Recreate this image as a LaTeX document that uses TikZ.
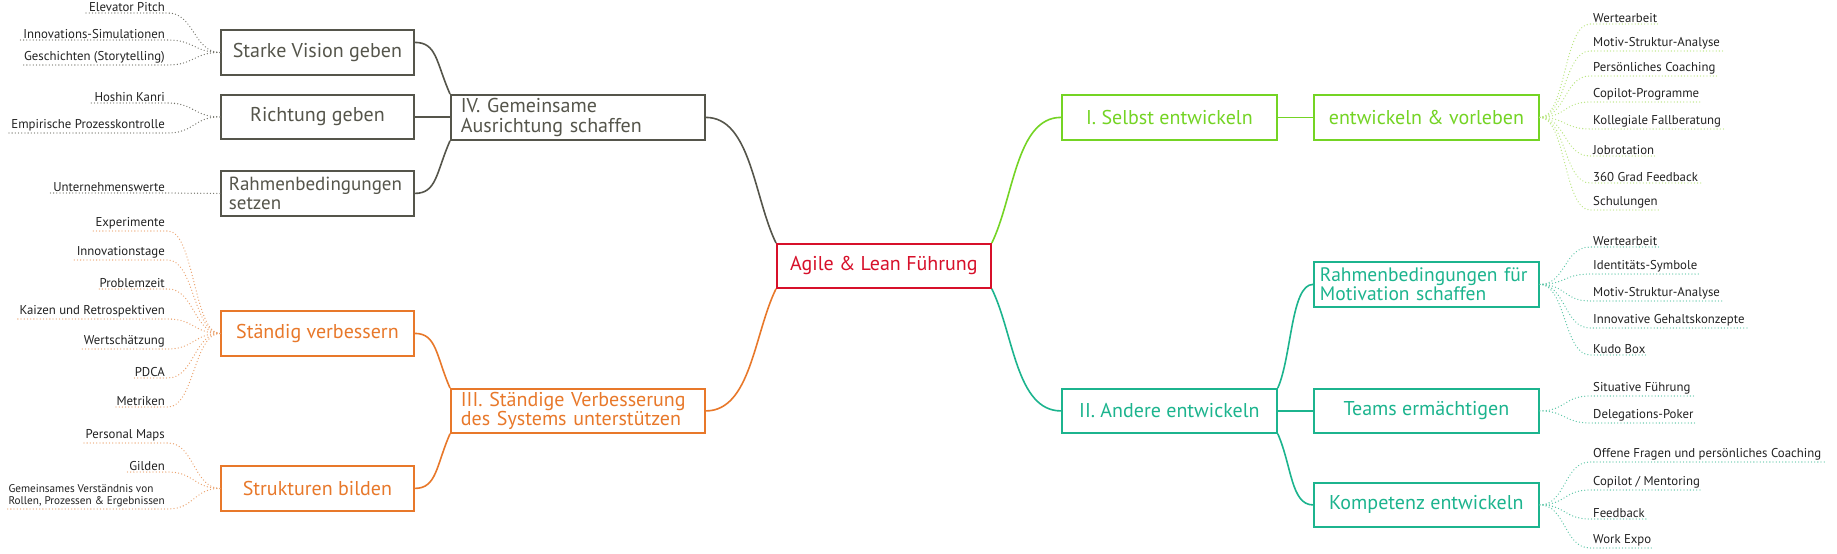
\documentclass[tikz,border=0pt]{standalone}
\usepackage{fontspec}
\setmainfont{PT Sans}
\usetikzlibrary{calc}
\definecolor{cgray}{HTML}{55554B}
\definecolor{cred}{HTML}{D7102A}
\definecolor{corange}{HTML}{E8782A}
\definecolor{cgreen}{HTML}{74D424}
\definecolor{cteal}{HTML}{1CB48E}
\definecolor{dgray}{HTML}{707066}
\definecolor{dorange}{HTML}{EBA06A}
\definecolor{dgreen}{HTML}{B9E67F}
\definecolor{dteal}{HTML}{55C4A4}
\definecolor{leaftext}{HTML}{222222}
\begin{document}
\begin{tikzpicture}[x=1pt,y=-1pt,
  box/.style={draw, line width=1.8pt, rectangle, anchor=north west, inner xsep=10pt, inner ysep=2pt, font=\fontsize{20}{19.5}\selectfont, align=center},
  lbox/.style={box, align=left},
  conn/.style={line width=1.6pt},
  leaf/.style={font=\fontsize{12.8}{13}\selectfont, text=leaftext, inner xsep=3pt, inner ysep=1.5pt},
  dots/.style={line width=1.3pt, line cap=round, dash pattern=on 0pt off 3.2pt},
  lleaf/.style={leaf, anchor=south east},
  rleaf/.style={leaf, anchor=south west},
]
\fill[white] (0,0) rectangle (1837,554);
\useasboundingbox (0,0) rectangle (1837,554);

% central
\node[box, draw=cred, text=cred, minimum width=214pt, minimum height=44pt] (C) at (776,243) {Agile \& Lean Führung};

% left main
\node[lbox, draw=cgray, text=cgray, minimum width=254pt, minimum height=45pt, text width=234pt] (IV) at (450,94) {IV. Gemeinsame\\Ausrichtung schaffen};
\node[lbox, draw=corange, text=corange, minimum width=254pt, minimum height=44pt, text width=234pt] (III) at (450,388) {III. Ständige Verbesserung\\des Systems unterstützen};

% left children
\node[box, draw=cgray, text=cgray, minimum width=193pt, minimum height=45pt] (SV) at (220,29) {Starke Vision geben};
\node[box, draw=cgray, text=cgray, minimum width=193pt, minimum height=44pt] (RG) at (220,94) {Richtung geben};
\node[lbox, draw=cgray, text=cgray, minimum width=193pt, minimum height=45pt, inner xsep=8pt, text width=177pt, font=\fontsize{19}{19}\selectfont] (RB) at (220,170) {Rahmenbedingungen\\setzen};
\node[box, draw=corange, text=corange, minimum width=193pt, minimum height=45pt] (SVb) at (220,310) {Ständig verbessern};
\node[box, draw=corange, text=corange, minimum width=193pt, minimum height=45pt] (SB) at (220,465) {Strukturen bilden};

% right main
\node[box, draw=cgreen, text=cgreen, minimum width=215pt, minimum height=45pt] (I) at (1061,94) {I. Selbst entwickeln};
\node[box, draw=cteal, text=cteal, minimum width=215pt, minimum height=44pt] (II) at (1061,388) {II. Andere entwickeln};

% right children
\node[box, draw=cgreen, text=cgreen, minimum width=225pt, minimum height=45pt] (EV) at (1313,94) {entwickeln \& vorleben};
\node[lbox, draw=cteal, text=cteal, minimum width=225pt, minimum height=45pt, inner xsep=6pt, text width=213pt, font=\fontsize{19.5}{19}\selectfont] (RM) at (1313,261) {Rahmenbedingungen für\\Motivation schaffen};
\node[box, draw=cteal, text=cteal, minimum width=225pt, minimum height=44pt] (TE) at (1313,388) {Teams ermächtigen};
\node[box, draw=cteal, text=cteal, minimum width=225pt, minimum height=44pt] (KE) at (1313,482) {Kompetenz entwickeln};

% main connectors
\draw[conn, cgray] (IV.east) .. controls +(45,0) and +(-22,-45) .. (C.north west);
\draw[conn, corange] (III.east) .. controls +(45,0) and +(-22,45) .. (C.south west);
\draw[conn, cgreen] (C.north east) .. controls +(22,-45) and +(-45,0) .. (I.west);
\draw[conn, cteal] (C.south east) .. controls +(22,45) and +(-45,0) .. (II.west);

\draw[conn, cgray] ($(SV.east)+(0,-10)$) .. controls +(22,0) and +(-14,-32) .. (IV.north west);
\draw[conn, cgray] (RG.east) -- (RG.east -| IV.west);
\draw[conn, cgray] (RB.east) .. controls +(22,0) and +(-14,32) .. (IV.south west);
\draw[conn, corange] (SVb.east) .. controls +(22,0) and +(-14,-32) .. (III.north west);
\draw[conn, corange] (SB.east) .. controls +(22,0) and +(-14,32) .. (III.south west);

\draw[conn, cgreen] (I.east) -- (EV.west);
\draw[conn, cteal] (II.north east) .. controls +(14,-32) and +(-22,0) .. (RM.west);
\draw[conn, cteal] (II.east) -- (TE.west);
\draw[conn, cteal] (II.south east) .. controls +(14,32) and +(-22,0) .. (KE.west);

% left leaves (gray)
\node[lleaf] (l1) at (168,13) {Elevator Pitch};
\node[lleaf] (l2) at (168,40) {Innovations-Simulationen};
\node[lleaf] (l3) at (168,65) {Geschichten (Storytelling)};
\node[lleaf] (l4) at (168,103) {Hoshin Kanri};
\node[lleaf] (l5) at (168,133) {Empirische Prozesskontrolle};
\node[lleaf] (l6) at (168,193) {Unternehmenswerte};
\foreach \n/\p in {l1/SV,l2/SV,l3/SV,l4/RG,l5/RG,l6/RB}
  \draw[dots, dgray] (\p.west) .. controls +(-26,0) and +(26,0) .. (\n.south east) -- (\n.south west);

% left leaves (orange)
\node[lleaf] (o1) at (168,231) {Experimente};
\node[lleaf] (o2) at (168,260) {Innovationstage};
\node[lleaf] (o3) at (168,289) {Problemzeit};
\node[lleaf] (o4) at (168,319) {Kaizen und Retrospektiven};
\node[lleaf] (o5) at (168,349) {Wertschätzung};
\node[lleaf] (o6) at (168,378) {PDCA};
\node[lleaf] (o7) at (168,407) {Metriken};
\node[lleaf] (o8) at (168,443) {Personal Maps};
\node[lleaf] (o9) at (168,472) {Gilden};
\node[lleaf, align=left, font=\fontsize{11.2}{12.5}\selectfont] (o10) at (168,509) {Gemeinsames Verständnis von\\Rollen, Prozessen \& Ergebnissen};
\foreach \n/\p in {o1/SVb,o2/SVb,o3/SVb,o4/SVb,o5/SVb,o6/SVb,o7/SVb,o8/SB,o9/SB,o10/SB}
  \draw[dots, dorange] (\p.west) .. controls +(-26,0) and +(26,0) .. (\n.south east) -- (\n.south west);

% right leaves (green)
\node[rleaf] (g1) at (1590,24) {Wertearbeit};
\node[rleaf] (g2) at (1590,51) {Motiv-Struktur-Analyse};
\node[rleaf] (g3) at (1590,76) {Persönliches Coaching};
\node[rleaf] (g4) at (1590,102) {Copilot-Programme};
\node[rleaf] (g5) at (1590,129) {Kollegiale Fallberatung};
\node[rleaf] (g6) at (1590,156) {Jobrotation};
\node[rleaf] (g7) at (1590,183) {360 Grad Feedback};
\node[rleaf] (g8) at (1590,210) {Schulungen};
\foreach \n in {g1,g2,g3,g4,g5,g6,g7,g8}
  \draw[dots, dgreen] (EV.east) .. controls +(26,0) and +(-26,0) .. (\n.south west) -- (\n.south east);

% right leaves (teal)
\node[rleaf] (t1) at (1590,247) {Wertearbeit};
\node[rleaf] (t2) at (1590,274) {Identitäts-Symbole};
\node[rleaf] (t3) at (1590,301) {Motiv-Struktur-Analyse};
\node[rleaf] (t4) at (1590,328) {Innovative Gehaltskonzepte};
\node[rleaf] (t5) at (1590,355) {Kudo Box};
\node[rleaf] (t6) at (1590,396) {Situative Führung};
\node[rleaf] (t7) at (1590,423) {Delegations-Poker};
\node[rleaf] (t8) at (1590,462) {Offene Fragen und persönliches Coaching};
\node[rleaf] (t9) at (1590,490) {Copilot / Mentoring};
\node[rleaf] (t10) at (1590,519) {Feedback};
\node[rleaf] (t11) at (1590,548) {Work Expo};
\foreach \n/\p in {t1/RM,t2/RM,t3/RM,t4/RM,t5/RM,t6/TE,t7/TE,t8/KE,t9/KE,t10/KE,t11/KE}
  \draw[dots, dteal] (\p.east) .. controls +(26,0) and +(-26,0) .. (\n.south west) -- (\n.south east);
\end{tikzpicture}
\end{document}
